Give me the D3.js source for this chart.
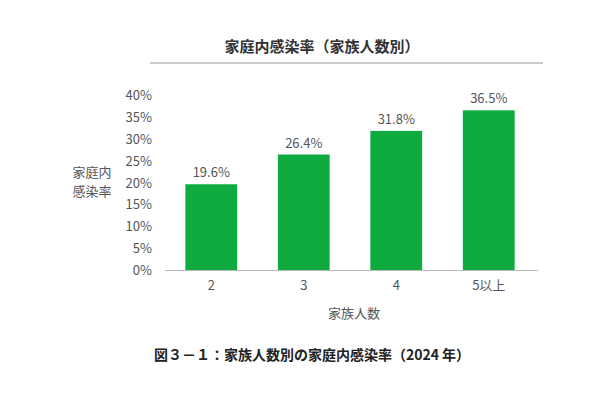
<!DOCTYPE html>
<html><head><meta charset="utf-8">
<script src="https://cdn.jsdelivr.net/npm/d3@7"></script>
<style>body{margin:0;background:#fff}text{font-family:"Noto Sans CJK JP","Noto Sans",sans-serif}</style>
</head><body><svg id="chart" width="600" height="400"></svg>
<script>
var categories = ["2", "3", "4", "5以上"];
var values = [19.6, 26.4, 31.8, 36.5];
var yTicks = [0, 5, 10, 15, 20, 25, 30, 35, 40];

var svg = d3.select("#chart");
var green = "#0fab40";
var textColor = "#555";

var x = d3.scaleBand().domain(categories).range([165, 535]).paddingInner(0.44).paddingOuter(0.22);
var y = d3.scaleLinear().domain([0, 40]).range([270, 95]);

svg.append("text").attr("x", 322).attr("y", 52).attr("text-anchor", "middle")
	.attr("font-size", 15).attr("font-weight", "bold").attr("fill", "#333").text("家庭内感染率（家族人数別）");
svg.append("line").attr("x1", 150).attr("x2", 543).attr("y1", 63).attr("y2", 63)
	.attr("stroke", "#999").attr("stroke-width", 1);

// y axis labels
svg.selectAll(".ytick").data(yTicks).enter().append("text")
	.attr("x", 152).attr("y", function (d) { return y(d) + 5; })
	.attr("text-anchor", "end").attr("font-size", 13).attr("fill", textColor)
	.text(function (d) { return d + "%"; });

svg.selectAll(".bar").data(values).enter().append("rect")
	.attr("x", function (d, i) { return x(categories[i]); })
	.attr("width", x.bandwidth())
	.attr("y", function (d) { return y(d); })
	.attr("height", function (d) { return y(0) - y(d); })
	.attr("fill", green);

svg.selectAll(".lbl").data(values).enter().append("text")
	.attr("x", function (d, i) { return x(categories[i]) + x.bandwidth() / 2; })
	.attr("y", function (d) { return y(d) - 7; })
	.attr("text-anchor", "middle").attr("font-size", 13).attr("fill", textColor)
	.text(function (d) { return d.toFixed(1) + "%"; });

svg.append("line").attr("x1", 165).attr("x2", 538).attr("y1", y(0) + 0.5).attr("y2", y(0) + 0.5)
	.attr("stroke", "#bbb");

svg.selectAll(".xlbl").data(categories).enter().append("text")
	.attr("x", function (d) { return x(d) + x.bandwidth() / 2; })
	.attr("y", 290).attr("text-anchor", "middle").attr("font-size", 13).attr("fill", textColor)
	.text(function (d) { return d; });

svg.append("text").attr("x", 92).attr("y", 177).attr("text-anchor", "middle").attr("font-size", 13).attr("fill", textColor).text("家庭内");
svg.append("text").attr("x", 92).attr("y", 196).attr("text-anchor", "middle").attr("font-size", 13).attr("fill", textColor).text("感染率");
svg.append("text").attr("x", 354).attr("y", 318).attr("text-anchor", "middle").attr("font-size", 13).attr("fill", textColor).text("家族人数");

svg.append("text").attr("x", 312).attr("y", 360).attr("text-anchor", "middle")
	.attr("font-size", 14).attr("font-weight", "bold").attr("fill", "#222").text("図３－１：家族人数別の家庭内感染率（2024 年）");
</script></body></html>
